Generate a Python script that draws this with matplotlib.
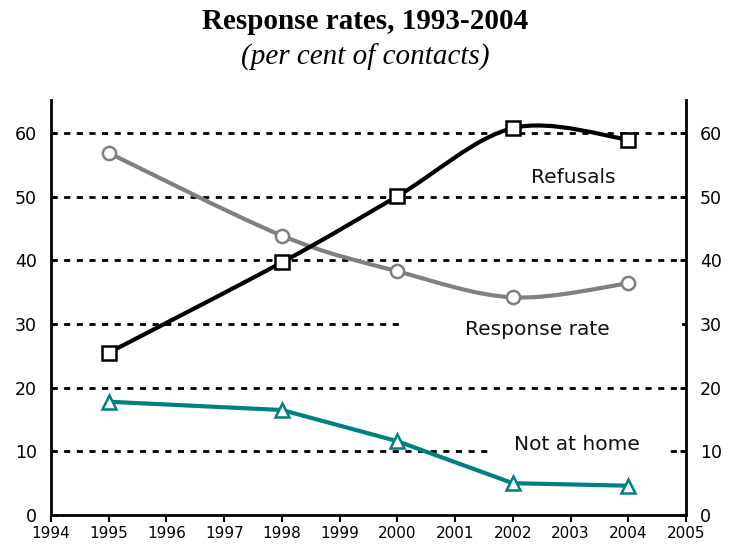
import numpy as np
import matplotlib
matplotlib.use("Agg")
import matplotlib.pyplot as plt
from matplotlib.path import Path
from matplotlib.patches import PathPatch, Rectangle

years = [1995, 1998, 2000, 2002, 2004]
refusals = [25.5, 39.7, 50.1, 60.8, 59.0]
response_rate = [56.9, 43.9, 38.3, 34.2, 36.4]
not_at_home = [17.8, 16.5, 11.6, 5.0, 4.6]

x_ticks = list(range(1994, 2006))
y_ticks = [0, 10, 20, 30, 40, 50, 60]


def smooth_path(xs, ys):
    # Catmull-Rom style bezier through the points (like a spreadsheet "smoothed line")
    pts = np.column_stack([xs, ys]).astype(float)
    ext = np.vstack([pts[0], pts, pts[-1]])
    verts = [pts[0]]
    codes = [Path.MOVETO]
    for i in range(len(pts) - 1):
        p0, p1, p2, p3 = ext[i], ext[i + 1], ext[i + 2], ext[i + 3]
        verts += [p1 + (p2 - p0) / 6, p2 - (p3 - p1) / 6, p2]
        codes += [Path.CURVE4] * 3
    return Path(verts, codes)


fig = plt.figure(figsize=(7.31, 5.53), dpi=100)
ax = fig.add_axes([0.0698, 0.0687, 0.8686, 0.7503])
ax.set_xlim(1994, 2005)
ax.set_ylim(0, 65.2)

# dotted gridlines
for y in y_ticks[1:]:
    ax.axhline(y, color="black", lw=2, dashes=(2.2, 2.35), zorder=1)

# white boxes behind the series labels
ax.add_patch(Rectangle((2000.13, 27), 4.8, 5, facecolor="white", edgecolor="none", zorder=2))
ax.add_patch(Rectangle((2001.62, 8), 3.05, 4, facecolor="white", edgecolor="none", zorder=2))

# (values, colour, marker, size, smoothed)
series = [
    (response_rate, "#808080", "o", 9.5, True),
    (refusals, "black", "s", 10, True),
    (not_at_home, "#008080", "^", 10, False),
]
for vals, col, mk, ms, smooth in series:
    if smooth:
        ax.add_patch(PathPatch(smooth_path(years, vals), facecolor="none",
                               edgecolor=col, lw=3, zorder=3, capstyle="round"))
    else:
        ax.plot(years, vals, color=col, lw=3, zorder=3, solid_capstyle="round")
    ax.plot(years, vals, linestyle="none", marker=mk, ms=ms, mfc="white",
            mec=col, mew=1.8, zorder=4, clip_on=False)

ax.text(2003.04, 53.1, "Refusals", ha="center", va="center", fontsize=14.5, color="#111111", zorder=5)
ax.text(2002.42, 29.2, "Response rate", ha="center", va="center", fontsize=14.5, color="#111111", zorder=5)
ax.text(2003.11, 11.15, "Not at home", ha="center", va="center", fontsize=14.5, color="#111111", zorder=5)

ax.spines["top"].set_visible(False)
for s in ["left", "right", "bottom"]:
    ax.spines[s].set_linewidth(2)

ax.set_xticks(x_ticks)
ax.set_yticks(y_ticks)
ax.tick_params(axis="x", direction="out", length=5, width=1.5, labelsize=11, pad=3)
ax.tick_params(axis="y", direction="in", length=4, width=2, labelsize=12.5,
               left=True, right=True, labelleft=True, labelright=True, pad=10)

fig.text(0.5, 0.962, "Response rates, 1993-2004", ha="center", va="center",
         fontsize=21, fontweight="bold", family="Liberation Serif")
fig.text(0.5, 0.897, "(per cent of contacts)", ha="center", va="center",
         fontsize=21, style="italic", family="Liberation Serif")

fig.savefig("out.png", dpi=100)
